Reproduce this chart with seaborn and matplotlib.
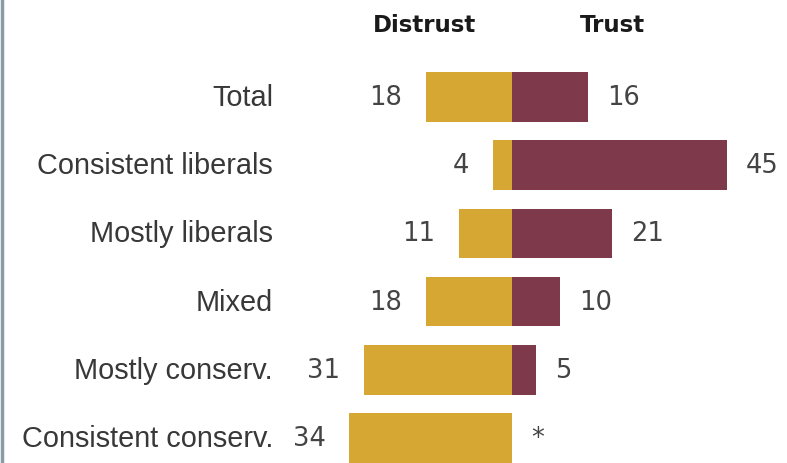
import matplotlib
matplotlib.use("Agg")
import matplotlib.pyplot as plt
import seaborn as sns
import pandas as pd
from matplotlib.lines import Line2D

groups = ["Total", "Consistent liberals", "Mostly liberals", "Mixed",
          "Mostly conserv.", "Consistent conserv."]
distrust = [18, 4, 11, 18, 31, 34]
trust = [16, 45, 21, 10, 5, 0]
trust_labels = ["16", "45", "21", "10", "5", "*"]
distrust_labels = ["18", "4", "11", "18", "31", "34"]

sns.set_theme(style="white")
plt.rcParams['font.family'] = ['Liberation Sans', 'DejaVu Sans']

df = pd.DataFrame({
    "group": groups * 2,
    "value": [-d for d in distrust] + trust,
    "kind": ["Distrust"] * len(groups) + ["Trust"] * len(groups),
})

W, H = 787, 464
fig = plt.figure(figsize=(W / 100, H / 100), dpi=100)
ax = fig.add_axes([0, 0, 1, 1])

sns.barplot(data=df, y="group", x="value", hue="kind", dodge=False,
            palette={"Distrust": "#D6A732", "Trust": "#7E3A4B"},
            width=0.73, orient="h", legend=False, ax=ax, saturation=1,
            linewidth=0)

ppu = 4.78          # pixels per unit
cx = 512            # pixel of zero
xl = -cx / ppu
xr = (W - cx) / ppu
ax.set_xlim(xl, xr)
row0, step = 98, 68.2
ax.set_ylim((H - row0) / step, -row0 / step)
ax.axis("off")

for i, g in enumerate(groups):
    ax.text(xl + 273 / ppu, i, g, ha="right", va="center", fontsize=20.8,
            color="#383838")
    ax.text(-distrust[i] - 24 / ppu, i, distrust_labels[i], ha="right",
            va="center", fontsize=18.5, color="#444444",
            family=["DejaVu Sans"])
    ax.text(trust[i] + 19 / ppu, i, trust_labels[i], ha="left",
            va="center", fontsize=18.5, color="#444444",
            family=["DejaVu Sans"])

ax.text(xl + 425 / ppu, -row0 / step + 25 / step, "Distrust", ha="center",
        va="center", fontsize=16.5, fontweight="bold", color="#1a1a1a",
        family=["DejaVu Sans"])
ax.text(xl + 612 / ppu, -row0 / step + 25 / step, "Trust", ha="center",
        va="center", fontsize=16.5, fontweight="bold", color="#1a1a1a",
        family=["DejaVu Sans"])

fig.add_artist(Line2D([0.002, 0.002], [0, 1], color="#8C9BA8", lw=2.5,
                      transform=fig.transFigure))

fig.savefig("out.png", dpi=100)
